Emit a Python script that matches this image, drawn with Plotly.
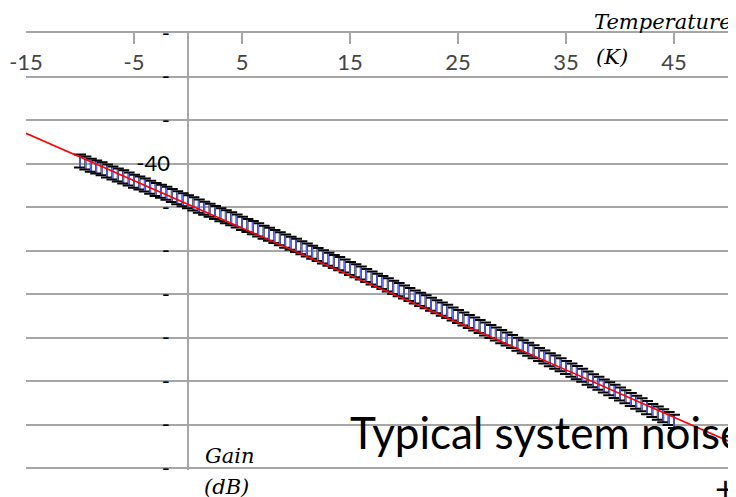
import plotly.graph_objects as go

# temperature (K) of each measurement
temperature = [
    -10, -9.5, -9, -8.5, -8, -7.5, -7, -6.5, -6, -5.5, -5, -4.5, -4, -3.5, -3, -2.5,
    -2, -1.5, -1, -0.5, 0, 0.5, 1, 1.5, 2, 2.5, 3, 3.5, 4, 4.5, 5, 5.5, 6, 6.5,
    7, 7.5, 8, 8.5, 9, 9.5, 10, 10.5, 11, 11.5, 12, 12.5, 13, 13.5, 14, 14.5,
    15, 15.5, 16, 16.5, 17, 17.5, 18, 18.5, 19, 19.5, 20, 20.5, 21, 21.5, 22,
    22.5, 23, 23.5, 24, 24.5, 25, 25.5, 26, 26.5, 27, 27.5, 28, 28.5, 29, 29.5,
    30, 30.5, 31, 31.5, 32, 32.5, 33, 33.5, 34, 34.5, 35, 35.5, 36, 36.5, 37,
    37.5, 38, 38.5, 39, 39.5, 40, 40.5, 41, 41.5, 42, 42.5, 43, 43.5, 44, 44.5, 45,
]

# gain (dB)
gain = [
    -39.72, -39.95, -40.19, -40.40, -40.61, -40.86, -41.10, -41.32, -41.54, -41.79,
    -42.03, -42.25, -42.48, -42.72, -42.98, -43.20, -43.43, -43.68, -43.93, -44.16,
    -44.40, -44.64, -44.90, -45.14, -45.37, -45.63, -45.88, -46.12, -46.36, -46.62,
    -46.88, -47.12, -47.37, -47.63, -47.90, -48.14, -48.39, -48.65, -48.92, -49.16,
    -49.41, -49.69, -49.95, -50.21, -50.46, -50.73, -51.00, -51.26, -51.51, -51.79,
    -52.07, -52.33, -52.59, -52.87, -53.15, -53.41, -53.67, -53.95, -54.24, -54.50,
    -54.77, -55.06, -55.34, -55.62, -55.88, -56.17, -56.46, -56.74, -57.00, -57.30,
    -57.59, -57.87, -58.15, -58.44, -58.74, -59.02, -59.30, -59.59, -59.90, -60.18,
    -60.46, -60.77, -61.07, -61.36, -61.64, -61.95, -62.25, -62.55, -62.83, -63.14,
    -63.45, -63.75, -64.04, -64.35, -64.67, -64.96, -65.26, -65.57, -65.89, -66.19,
    -66.49, -66.81, -67.13, -67.44, -67.73, -68.06, -68.38, -68.69, -68.99, -69.32,
    -69.64,
]

gain_err = 0.75

# linear trendline end points
trend_temp = [-15, 50]
trend_gain = [-36.53, -71.89]

x_tickvals = [-15, -5, 5, 15, 25, 35, 45]
x_ticktext = ["-15", "-5", "5", "15", "25", "35", "45"]

y_tickvals = [-25, -30, -35, -40, -45, -50, -55, -60, -65, -70, -75]
y_ticktext = ["-", "-", "-", "-40", "-", "-", "-", "-", "-", "-", "-"]

GRID = "#a6a6a6"

fig = go.Figure()

fig.add_trace(
    go.Scatter(
        x=temperature,
        y=gain,
        mode="markers",
        marker=dict(
            symbol="line-ns-open",
            size=8,
            line=dict(color="#4f81bd", width=1.5)
        ),
        error_y=dict(
            type="constant",
            value=gain_err,
            color="black",
            thickness=2,
            width=6
        ),
        showlegend=False
    )
)

fig.add_trace(
    go.Scatter(
        x=trend_temp,
        y=trend_gain,
        mode="lines",
        line=dict(color="#ff0000", width=1.5),
        showlegend=False
    )
)

# the page body has an 8px margin, so the figure is 8px smaller on each side
fig.update_layout(
    width=728,
    height=489,
    paper_bgcolor="white",
    plot_bgcolor="white",
    margin=dict(l=18, r=8, t=25, b=27, autoexpand=False),
    font=dict(family="Lato", size=22, color="black"),

    xaxis=dict(
        range=[-15, 50],
        side="top",
        tickvals=x_tickvals,
        ticktext=x_ticktext,
        ticks="inside",
        ticklen=11,
        tickwidth=1.5,
        tickcolor=GRID,
        ticklabelposition="inside",
        ticklabeloverflow="allow",
        ticklabelstandoff=12,
        automargin=False,
        showline=True,
        linecolor=GRID,
        linewidth=2,
        showgrid=False,
        zeroline=True,
        zerolinecolor=GRID,
        zerolinewidth=2
    ),

    yaxis=dict(
        range=[-75.23, -25],
        tickvals=y_tickvals,
        ticktext=y_ticktext,
        anchor="free",
        position=15 / 65,
        ticks="",
        ticklabelstandoff=18,
        automargin=False,
        showline=False,
        showgrid=True,
        gridcolor=GRID,
        gridwidth=2,
        zeroline=False
    )
)

axis_title_font = dict(family="DejaVu Serif", size=21, style="italic", color="black")

fig.add_annotation(text="Temperature", xref="paper", yref="paper", x=0.8063, y=1.026,
                   xanchor="left", yanchor="middle", showarrow=False, font=axis_title_font)
fig.add_annotation(text="(K)", xref="paper", yref="paper", x=0.809, y=0.945,
                   xanchor="left", yanchor="middle", showarrow=False, font=axis_title_font)
fig.add_annotation(text="Gain", xref="paper", yref="paper", x=0.252, y=0.032,
                   xanchor="left", yanchor="middle", showarrow=False, font=axis_title_font)
fig.add_annotation(text="(dB)", xref="paper", yref="paper", x=0.2507, y=-0.039,
                   xanchor="left", yanchor="middle", showarrow=False, font=axis_title_font)

fig.add_annotation(text="Typical system noise", xref="paper", yref="paper", x=0.458, y=0.086,
                   xanchor="left", yanchor="middle", showarrow=False,
                   font=dict(family="Lato", size=44, color="black"))
fig.add_annotation(text="+", xref="paper", yref="paper", x=0.997, y=-0.041,
                   xanchor="center", yanchor="middle", showarrow=False,
                   font=dict(family="Lato", size=36, color="black"))

fig.write_html("out.html")
